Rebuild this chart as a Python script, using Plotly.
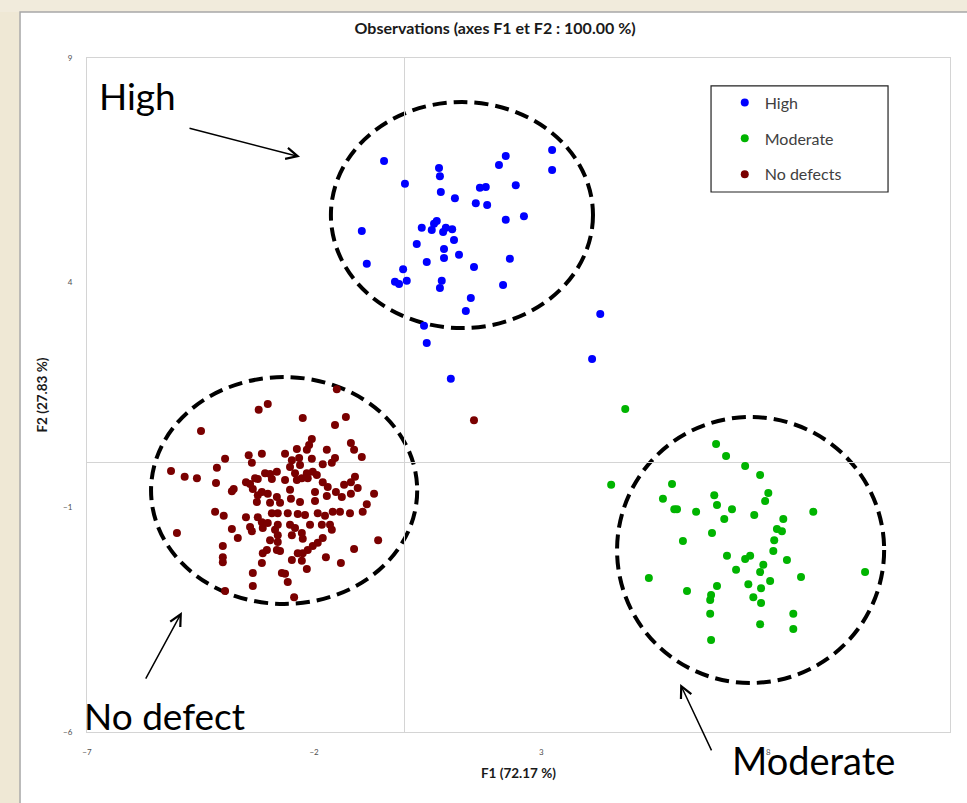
import plotly.graph_objects as go

# ---------------- data (factor scores F1, F2) ----------------
high_x = [-0.46, 0.00, 0.75, 0.77, 0.79, 1.10, 1.65, 1.78, 1.56, 1.81,
          2.07, 2.22, 2.44, 3.24, 3.24, 2.62, 2.22, -0.95, 0.37, 0.59,
          0.64, 0.70, 0.84, 0.90, 1.04, 1.08, 0.26, 0.86, 0.86, 1.19,
          0.48, -0.84, -0.04, -0.22, -0.13, 0.04, 0.81, 0.77, 1.52, 2.31,
          2.16, 1.45, 1.34, 0.42, 0.48, 4.30, 4.12, 1.01]
high_y = [6.71, 6.20, 6.55, 6.37, 6.02, 5.88, 6.11, 6.13, 5.77, 5.73,
          6.62, 6.82, 6.17, 6.95, 6.51, 5.48, 5.40, 5.15, 5.22, 5.17,
          5.31, 5.37, 5.13, 5.22, 5.19, 4.95, 4.86, 4.75, 4.55, 4.62,
          4.46, 4.42, 4.30, 4.02, 3.97, 4.04, 4.04, 3.88, 4.35, 4.53,
          3.95, 3.66, 3.37, 3.04, 2.66, 3.30, 2.30, 1.86]

mod_x = [4.85, 6.85, 7.07, 4.54, 5.88, 5.68, 5.93, 5.99, 6.41, 6.81,
         6.87, 7.20, 7.03, 6.76, 6.12, 7.09, 7.29, 5.37, 6.21, 6.87,
         6.74, 6.72, 6.72, 6.74, 7.49, 7.82, 8.00, 7.93, 7.69, 8.99,
         8.33, 8.19, 8.30, 8.13, 8.11, 7.60, 7.49, 7.89, 7.82, 8.41,
         8.72, 8.04, 7.56, 7.84, 7.67, 7.84, 8.55, 7.82, 8.55, 10.13]
mod_y = [1.19, 0.41, 0.14, -0.50, -0.48, -0.81, -1.04, -1.04, -1.10, -0.73,
         -0.95, -1.04, -1.26, -1.57, -1.75, -2.08, -2.39, -2.57, -2.86, -2.75,
         -2.95, -3.06, -3.37, -3.95, -0.08, -0.28, -0.68, -0.86, -1.17, -1.10,
         -1.26, -1.48, -1.53, -1.73, -1.97, -2.08, -2.15, -2.28, -2.44, -2.17,
         -2.55, -2.64, -2.71, -2.80, -3.00, -3.13, -3.37, -3.60, -3.71, -2.44]

nd_x = [-4.49, -3.22, -3.02, -5.15, -4.85, -4.58, -4.14, -3.96, -4.16, -3.44,
        -3.15, -3.37, -3.77, -3.81, -3.50, -3.41, -3.30, -3.24, -3.08, -2.97,
        -2.82, -2.93, -3.35, -3.24, -3.15, -3.02, -3.26, -2.97, -2.82,
        -2.25, -1.54, -1.30, -2.05, -2.11, -2.16, -2.38, -2.64, -1.72, -1.19,
        -1.12, -0.95, -1.54, -1.61, -1.81, -2.05, -2.33, -2.49, -2.31, -2.53,
        -2.42, -2.16, -2.03, -1.94, -2.14, -2.27, -2.38, -2.64, -1.81, -1.70,
        -1.10, -1.19, -1.34, -1.04, -1.52, -1.72, -1.98, -2.53, -2.51, -2.31,
        -1.98, -1.39, -1.19, -0.68, -0.84,
        -5.02, -4.18, -3.99, -3.81, -3.68, -4.01, -4.01, -4.01, -3.96, -3.35,
        -3.35, -3.50, -3.41, -3.37, -3.24, -3.15, -3.13, -2.93, -3.02, -3.13,
        -3.15, -3.04, -2.97, -2.80, -2.82, -2.86,
        -2.75, -2.80, -2.58, -2.36, -2.20, -1.92, -1.76, -1.59, -1.43, -1.21,
        -0.93, -2.80, -2.53, -2.42, -2.09, -1.83, -1.65, -1.61, -2.80, -2.49,
        -2.27, -2.25, -1.81, -1.92, -2.03, -2.14, -2.25, -2.36, -2.75, -2.49,
        -2.27, -1.74, -1.12, -0.59, -1.41, -2.16, -2.71, -2.64, -2.58, -2.44,
        -1.50, 1.52]
nd_y = [0.70, 1.17, 1.30, -0.19, -0.32, -0.35, -0.12, 0.08, -0.46, 0.16,
        0.19, -0.01, -0.59, -0.64, -0.44, -0.48, -0.35, -0.37, -0.24, -0.26,
        -0.21, -0.37, -0.59, -0.73, -0.66, -0.70, -0.88, -0.90, -0.77,
        0.99, 0.83, 1.01, 0.52, 0.39, 0.28, 0.30, 0.19, 0.28, 0.43,
        0.28, 0.12, 0.10, -0.01, -0.04, 0.08, 0.10, 0.05, -0.06, -0.10,
        -0.24, -0.24, -0.21, -0.28, -0.35, -0.35, -0.39, -0.39, -0.44, -0.55,
        -0.32, -0.44, -0.50, -0.57, -0.66, -0.75, -0.66, -0.61, -0.81, -0.88,
        -0.86, -0.77, -0.70, -0.70, -0.93,
        -1.57, -1.10, -1.19, -1.48, -1.68, -1.86, -2.11, -2.22, -2.86, -2.46,
        -2.75, -1.22, -1.44, -1.53, -1.22, -1.33, -1.46, -1.13, -1.35, -2.02,
        -2.24, -1.95, -1.73, -1.77, -1.95, -1.50,
        -0.90, -1.13, -1.13, -1.15, -1.17, -1.13, -1.19, -1.10, -1.10, -1.13,
        -1.10, -1.39, -1.39, -1.46, -1.39, -1.39, -1.39, -1.50, -1.62, -1.62,
        -1.57, -1.70, -1.68, -1.79, -1.86, -1.95, -2.02, -2.02, -1.97, -2.17,
        -2.19, -2.11, -1.93, -1.73, -2.24, -2.37, -2.46, -2.48, -2.66, -3.00,
        1.63, 0.94]

series_names = ["High", "Moderate", "No defects"]
series_colors = ["#0000ff", "#00b400", "#7a0000"]
x_ticks = [-7, -2, 3, 8]
y_ticks = [-6, -1, 4, 9]

FONT = "Lato, 'Open Sans', sans-serif"

fig = go.Figure()
for name, xs, ys, col in zip(series_names, [high_x, mod_x, nd_x], [high_y, mod_y, nd_y], series_colors):
    fig.add_trace(go.Scatter(x=xs, y=ys, mode="markers", name=name, legendgroup=name,
                             marker=dict(color=col, size=8, line=dict(width=0))))

ell = dict(type="circle", xref="x", yref="y", layer="below",
           line=dict(color="black", width=4, dash="14px,7px"))
shapes = [
    dict(ell, x0=-1.63, x1=4.14, y0=2.99, y1=8.02),
    dict(ell, x0=-5.59, x1=0.27, y0=-3.15, y1=1.90),
    dict(ell, x0=4.67, x1=10.55, y0=-4.91, y1=1.01),
    # legend frame
    dict(type="rect", xref="paper", yref="paper", x0=0.7231, x1=0.9282, y0=0.8012, y1=0.9585,
         line=dict(color="#222222", width=1.2), fillcolor="rgba(0,0,0,0)"),
    # slide background strips
    dict(type="rect", xref="paper", yref="paper", x0=-0.12, x1=-0.0776, y0=-0.2, y1=1.2,
         line=dict(width=0), fillcolor="#efe8d5", layer="above"),
    dict(type="rect", xref="paper", yref="paper", x0=-0.12, x1=1.1, y0=1.0682, y1=1.2,
         line=dict(width=0), fillcolor="#f1ebdc", layer="above"),
    dict(type="rect", xref="paper", yref="paper", x0=-0.0776, x1=1.1, y0=-0.2, y1=1.0682,
         line=dict(width=1.5, color="#a8a8a8"), fillcolor="rgba(0,0,0,0)", layer="above"),
]

big = dict(family=FONT, size=37, color="black")
arrow = dict(showarrow=True, arrowhead=5, arrowsize=1.5, arrowwidth=1.5, arrowcolor="black",
             axref="pixel", ayref="pixel", text="", xref="x", yref="y")
annotations = [
    dict(text="High", xref="paper", yref="paper", x=0.0116, y=0.944, xanchor="left",
         yanchor="middle", showarrow=False, font=big),
    dict(text="No defect", xref="paper", yref="paper", x=-0.0058, y=0.0252, xanchor="left",
         yanchor="middle", showarrow=False, font=big),
    dict(text="Moderate", xref="paper", yref="paper", x=0.745, y=-0.0415, xanchor="left",
         yanchor="middle", showarrow=False, font=dict(big, size=38)),
    dict(arrow, x=-2.31, y=6.80, ax=-112, ay=-29),
    dict(arrow, x=-4.91, y=-3.33, ax=-37, ay=68),
    dict(arrow, x=6.06, y=-4.93, ax=32, ay=68),
]

axis_common = dict(showgrid=False, zeroline=True, zerolinecolor="#d4d4d4", zerolinewidth=1,
                   showline=True, mirror=True, linecolor="#d4d4d4", linewidth=1,
                   ticks="", tickfont=dict(family=FONT, size=8, color="#505050"),
                   ticklabelstandoff=12)

fig.update_layout(
    width=967, height=803,
    margin=dict(l=87, r=17, t=58, b=71),
    paper_bgcolor="white", plot_bgcolor="white",
    title=dict(text="<b>Observations (axes F1 et F2 : 100.00 %)</b>", x=0.512, xanchor="center",
               y=1 - 28 / 803, yanchor="middle", xref="container", yref="container",
               font=dict(family=FONT, size=16, color="#1a1a1a")),
    xaxis=dict(axis_common, range=[-7, 12], tickvals=x_ticks,
               title=dict(text="<b>F1 (72.17 %)</b>", font=dict(family=FONT, size=13.5, color="#1a1a1a"),
                          standoff=12)),
    yaxis=dict(axis_common, range=[-6, 9], tickvals=y_ticks,
               title=dict(text="<b>F2 (27.83 %)</b>", font=dict(family=FONT, size=13.5, color="#1a1a1a"),
                          standoff=12)),
    legend=dict(x=0.739, y=0.959, xanchor="left", yanchor="top", bgcolor="rgba(0,0,0,0)",
                borderwidth=0, font=dict(family=FONT, size=16, color="#404040"),
                tracegroupgap=12),
    shapes=shapes,
    annotations=annotations,
    showlegend=True,
)

fig.write_html("out.html", config={"displayModeBar": False},
               post_script="document.body.style.margin='0px';")
